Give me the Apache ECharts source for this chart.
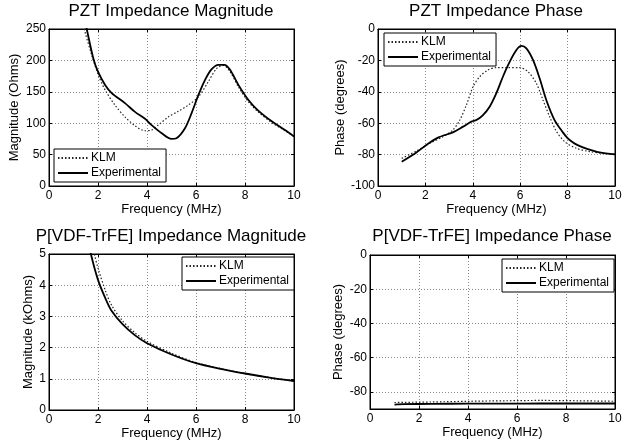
<!DOCTYPE html>
<html>
<head>
<meta charset="utf-8">
<script src="https://cdn.jsdelivr.net/npm/echarts@6/dist/echarts.min.js"></script>
<style>
html,body{margin:0;padding:0;background:#fff;}
#chart{width:629px;height:447px;}
</style>
</head>
<body>
<div id="chart"></div>
<script>
// ---------- data ----------
const titles = ['PZT Impedance Magnitude', 'PZT Impedance Phase',
                'P[VDF-TrFE] Impedance Magnitude', 'P[VDF-TrFE] Impedance Phase'];
const xName = 'Frequency (MHz)';
const yNames = ['Magnitude (Ohms)', 'Phase (degrees)', 'Magnitude (kOhms)', 'Phase (degrees)'];
const seriesNames = ['KLM', 'Experimental'];
const xTicks = [0, 2, 4, 6, 8, 10];
const yTicks1 = [0, 50, 100, 150, 200, 250];
const yTicks2 = [-100, -80, -60, -40, -20, 0];
const yTicks3 = [0, 1, 2, 3, 4, 5];
const yTicks4 = [-80, -60, -40, -20, 0];
const yRange4 = [-90, 0];

// PZT impedance magnitude (Ohms)
const pztMagKlmF = [1.1, 1.44, 1.74, 2.01, 2.29, 2.69, 3.1, 3.51, 3.92, 4.19, 4.46, 4.87, 5.28, 5.69, 6.1, 6.5, 6.84, 7.12, 7.39, 7.73, 8.14, 8.54, 9.09, 9.63, 10];
const pztMagKlmV = [310, 250, 209, 177, 153, 129, 110, 96, 88, 89, 97, 110, 119, 129, 142, 166, 187, 192, 182, 158, 134, 118, 101, 88, 79];
const pztMagExpF = [1.2, 1.54, 1.81, 2.0, 2.29, 2.56, 3.1, 3.51, 3.92, 4.19, 4.6, 5.0, 5.2, 5.55, 5.82, 6.1, 6.37, 6.64, 6.91, 7.16, 7.39, 7.73, 8.14, 8.54, 9.09, 9.63, 10];
const pztMagExpV = [310, 250, 203, 182, 161, 148, 132, 118, 107, 97, 84, 75, 76, 92, 116, 145, 169, 186, 193, 193, 185, 161, 137, 120, 103, 89, 79];

// PZT impedance phase (degrees)
const pztPhKlmF = [1.0, 1.62, 2.18, 2.74, 3.16, 3.45, 3.73, 4.01, 4.29, 4.64, 4.99, 5.41, 5.98, 6.33, 6.68, 6.96, 7.24, 7.52, 7.88, 8.37, 8.93, 9.49, 10];
const pztPhKlmV = [-82.4, -77.7, -72.8, -68.6, -64.3, -58, -48.4, -36.7, -30.4, -26.1, -24.6, -24.6, -24.6, -27.2, -34.6, -45.2, -55.8, -65, -71.8, -76, -78.1, -79.2, -79.8];
const pztPhExpF = [1.0, 1.62, 2.04, 2.53, 3.16, 3.59, 3.94, 4.15, 4.43, 4.71, 4.99, 5.27, 5.56, 5.84, 6.05, 6.26, 6.54, 6.82, 7.1, 7.45, 7.81, 8.0, 8.2, 8.4, 8.79, 9.35, 10];
const pztPhExpV = [-84.5, -78.6, -73.9, -69.2, -65.8, -62.2, -59, -58, -54.8, -49.5, -41, -30.4, -20.8, -13.4, -10.8, -12.3, -19.7, -31.4, -45.2, -58, -66, -69.5, -72, -73.8, -76.2, -78.6, -79.8];

// P[VDF-TrFE] impedance magnitude (kOhms)
const pvdfMagKlmF = [1.0, 1.5, 1.85, 2.0, 2.29, 2.56, 3.0, 3.5, 4.0, 5.0, 6.0, 7.0, 8.0, 9.0, 10.0];
const pvdfMagKlmV = [9.2, 6.2, 5.0, 4.55, 3.85, 3.35, 2.86, 2.48, 2.2, 1.82, 1.52, 1.33, 1.17, 1.04, 0.93];
const pvdfMagExpF = [1.0, 1.5, 1.71, 2.0, 2.29, 2.56, 3.0, 3.5, 4.0, 5.0, 6.0, 7.0, 8.0, 9.0, 10.0];
const pvdfMagExpV = [8.5, 5.8, 5.0, 4.17, 3.6, 3.17, 2.75, 2.4, 2.14, 1.78, 1.5, 1.32, 1.17, 1.04, 0.93];

// P[VDF-TrFE] impedance phase (degrees)
const pvdfPhKlmF = [1, 2.5, 4, 5.5, 7, 8.5, 10];
const pvdfPhKlmV = [-86.2, -85.9, -85.5, -85.2, -85.0, -85.2, -85.5];
const pvdfPhExpF = [1, 1.4, 2.5, 4, 5.5, 7, 8.5, 10];
const pvdfPhExpV = [-87.4, -87.2, -87.0, -86.9, -86.9, -86.8, -86.8, -86.8];

// ---------- layout / styling ----------
const FONT = '"Liberation Sans", Arial, Helvetica, sans-serif';
const grids = [
  {left: 49, top: 29, width: 245, height: 157},
  {left: 378, top: 29, width: 237, height: 157},
  {left: 49, top: 254, width: 245, height: 156},
  {left: 370, top: 255, width: 245, height: 154}
];
const yCfg = [
  {min: 0, max: 250, interval: 50, gap: 28},
  {min: -100, max: 0, interval: 20, gap: 31},
  {min: 0, max: 5, interval: 1, gap: 14},
  {min: yRange4[0], max: yRange4[1], custom: yTicks4, gap: 25}
];
const legendPos = [
  {left: 54, top: 149},
  {left: 384, top: 33},
  {left: 182, top: 257},
  {left: 502, top: 259}
];
const titleCenters = [[171, 3], [496, 3], [171, 228], [492, 228]];
const data = [
  [[pztMagKlmF, pztMagKlmV], [pztMagExpF, pztMagExpV]],
  [[pztPhKlmF, pztPhKlmV], [pztPhExpF, pztPhExpV]],
  [[pvdfMagKlmF, pvdfMagKlmV], [pvdfMagExpF, pvdfMagExpV]],
  [[pvdfPhKlmF, pvdfPhKlmV], [pvdfPhExpF, pvdfPhExpV]]
];

function zip(f, v) { return f.map((x, i) => [x, v[i]]); }

const splitLineStyle = {show: true, lineStyle: {color: '#8a8a8a', width: 1, type: [1, 2]}};
const option = {
  backgroundColor: '#fff',
  animation: false,
  textStyle: {fontFamily: FONT, color: '#000'},
  title: titles.map((t, i) => ({
    text: t, left: titleCenters[i][0], top: titleCenters[i][1], textAlign: 'center',
    padding: 0,
    textStyle: {fontFamily: FONT, fontSize: 17, fontWeight: 'normal', color: '#000'}
  })),
  grid: grids.map(g => Object.assign({show: true, borderColor: '#000', borderWidth: 1, backgroundColor: '#fff'}, g)),
  legend: legendPos.map((p, i) => ({
    orient: 'vertical', left: p.left, top: p.top,
    data: seriesNames,
    itemWidth: 30, itemHeight: 12, itemGap: 3,
    padding: [3, 5, 3, 3],
    borderColor: '#000', borderWidth: 1, backgroundColor: '#fff',
    selectedMode: false,
    itemStyle: {opacity: 0},
    textStyle: {fontFamily: FONT, fontSize: 12, color: '#000', padding: [0, 0, 0, -2]}
  })),
  xAxis: [],
  yAxis: [],
  series: []
};

grids.forEach((g, i) => {
  option.xAxis.push({
    type: 'value', gridIndex: i, min: xTicks[0], max: xTicks[xTicks.length - 1], interval: xTicks[1] - xTicks[0],
    name: xName, nameLocation: 'middle', nameGap: 17,
    nameTextStyle: {fontFamily: FONT, fontSize: 13, color: '#000'},
    axisLine: {show: true, onZero: false, lineStyle: {color: '#000', width: 1}},
    axisTick: {show: true, inside: true, length: 3, lineStyle: {color: '#000'}},
    axisLabel: {color: '#000', fontSize: 12, fontFamily: FONT, margin: 4},
    splitLine: splitLineStyle
  });
  option.xAxis.push({
    type: 'value', gridIndex: i, position: 'top', min: xTicks[0], max: xTicks[xTicks.length - 1], interval: xTicks[1] - xTicks[0],
    axisLine: {show: true, onZero: false, lineStyle: {color: '#000', width: 1}},
    axisTick: {show: true, inside: true, length: 3, lineStyle: {color: '#000'}},
    axisLabel: {show: false}, splitLine: {show: false}
  });
  const yc = yCfg[i];
  const yMain = {
    type: 'value', gridIndex: i, min: yc.min, max: yc.max,
    name: yNames[i], nameLocation: 'middle', nameGap: yc.gap, nameRotate: 90,
    nameTextStyle: {fontFamily: FONT, fontSize: 13, color: '#000'},
    axisLine: {show: true, onZero: false, lineStyle: {color: '#000', width: 1}},
    axisTick: {show: true, inside: true, length: 3, lineStyle: {color: '#000'}},
    axisLabel: {color: '#000', fontSize: 12, fontFamily: FONT, margin: 3},
    splitLine: splitLineStyle
  };
  const yMirror = {
    type: 'value', gridIndex: i, position: 'right', min: yc.min, max: yc.max,
    axisLine: {show: true, onZero: false, lineStyle: {color: '#000', width: 1}},
    axisTick: {show: true, inside: true, length: 3, lineStyle: {color: '#000'}},
    axisLabel: {show: false}, splitLine: {show: false}
  };
  if (yc.custom) {
    yMain.axisLabel.customValues = yc.custom;
    yMain.axisTick.customValues = yc.custom;
    yMirror.axisTick.customValues = yc.custom;
    yMain.interval = 10;
    yMirror.interval = 10;
  } else {
    yMain.interval = yc.interval;
    yMirror.interval = yc.interval;
  }
  option.yAxis.push(yMain, yMirror);

  const [klm, exp] = data[i];
  option.series.push({
    name: seriesNames[0], type: 'line', xAxisIndex: 2 * i, yAxisIndex: 2 * i,
    data: zip(klm[0], klm[1]), symbol: 'none', smooth: 0.3, clip: true, z: 3,
    lineStyle: {color: '#222', width: 1.2, type: [1.5, 2]},
    itemStyle: {color: '#222'}
  });
  option.series.push({
    name: seriesNames[1], type: 'line', xAxisIndex: 2 * i, yAxisIndex: 2 * i,
    data: zip(exp[0], exp[1]), symbol: 'none', smooth: 0.3, clip: true, z: 4,
    lineStyle: {color: '#000', width: 1.8, type: 'solid'},
    itemStyle: {color: '#000'}
  });
});

const chart = echarts.init(document.getElementById('chart'), null, {renderer: 'canvas'});
chart.setOption(option);
</script>
</body>
</html>
